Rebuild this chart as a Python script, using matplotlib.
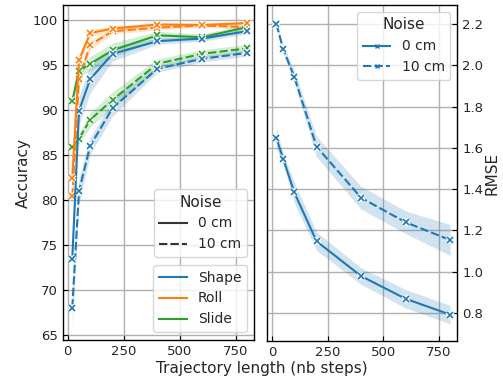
import numpy as np
import matplotlib
matplotlib.use('Agg')
import matplotlib.pyplot as plt
from matplotlib.lines import Line2D

# ---------------------------------------------------------#
# Data                     #
# ---------------------------------------------------------#
steps = [20, 50, 100, 200, 400, 600, 800]

tasks = ['Shape', 'Roll', 'Slide']
noise_labels = ['0 cm', '10 cm']

# accuracy, noise 0 cm
acc_shape_0  = [73.5, 89.9, 93.4, 96.2, 97.6, 97.9, 98.7]
acc_roll_0   = [82.5, 95.5, 98.5, 99.0, 99.45, 99.4, 99.6]
acc_slide_0  = [91.0, 94.3, 95.1, 96.6, 98.25, 98.05, 99.15]
# accuracy, noise 10 cm
acc_shape_10 = [68.1, 81.0, 86.0, 90.2, 94.55, 95.65, 96.3]
acc_roll_10  = [80.4, 93.4, 97.2, 98.7, 99.1, 99.35, 99.15]
acc_slide_10 = [85.9, 86.8, 88.9, 91.1, 95.1, 96.2, 96.8]

# half width of the confidence bands
ci_shape_0   = [1.5, 1.6, 1.5, 0.8, 0.35, 0.3, 0.3]
ci_roll_0    = [1.0, 0.6, 0.4, 0.3, 0.25, 0.2, 0.2]
ci_slide_0   = [0.6, 0.6, 0.8, 0.8, 0.45, 0.35, 0.3]
ci_shape_10  = [2.0, 1.5, 0.9, 0.9, 0.4, 0.35, 0.35]
ci_roll_10   = [1.0, 0.7, 0.5, 0.3, 0.25, 0.2, 0.25]
ci_slide_10  = [0.6, 0.6, 0.8, 0.9, 0.55, 0.45, 0.45]

# RMSE (Shape task)
rmse_0   = [1.646, 1.548, 1.384, 1.147, 0.978, 0.868, 0.791]
rmse_10  = [2.200, 2.079, 1.945, 1.606, 1.358, 1.239, 1.153]
rmse_ci_0  = [0.055, 0.025, 0.05, 0.045, 0.04, 0.045, 0.045]
rmse_ci_10 = [0.01, 0.02, 0.03, 0.05, 0.055, 0.055, 0.075]

acc = {('Shape', 0): (acc_shape_0, ci_shape_0), ('Roll', 0): (acc_roll_0, ci_roll_0),
       ('Slide', 0): (acc_slide_0, ci_slide_0), ('Shape', 1): (acc_shape_10, ci_shape_10),
       ('Roll', 1): (acc_roll_10, ci_roll_10), ('Slide', 1): (acc_slide_10, ci_slide_10)}

# ---------------------------------------------------------#
# Style                                                    #
# ---------------------------------------------------------#
colors = {'Shape': '#1f77b4', 'Roll': '#ff7f0e', 'Slide': '#2ca02c'}
dash = (4, 1.5)
plt.rcParams['font.family'] = 'DejaVu Sans'
plt.rcParams['axes.linewidth'] = 1.0
plt.rcParams['grid.color'] = '#b0b0b0'
plt.rcParams['grid.linewidth'] = 1.0
plt.rcParams['text.color'] = '#262626'
plt.rcParams['axes.labelcolor'] = '#262626'
plt.rcParams['xtick.labelcolor'] = '#262626'
plt.rcParams['ytick.labelcolor'] = '#262626'


def draw(ax, x, y, ci, color, dashed):
    y = np.array(y)
    ci = np.array(ci)
    ax.fill_between(x, y - ci, y + ci, color=color, alpha=0.2, linewidth=0)
    ls = '--' if dashed else '-'
    line, = ax.plot(x, y, color=color, lw=1.5, ls=ls)
    if dashed:
        line.set_dashes(dash)
    ax.plot(x, y, ls='none', marker='x', ms=4.5, mew=3.0, color='white')
    ax.plot(x, y, ls='none', marker='x', ms=4, mew=1.2, color=color)


def style(ax):
    ax.grid(True)
    ax.set_axisbelow(True)
    ax.tick_params(direction='in', labelsize=9.5, length=3.5, color='black')
    ax.set_xticks([0, 250, 500, 750])
    ax.set_xlim(-22, 832)
    for s in ax.spines.values():
        s.set_color('black')


fig = plt.figure(figsize=(5.03, 3.81), dpi=100)
ax1 = fig.add_axes([0.125, 0.1076, 0.380, 0.879])
ax2 = fig.add_axes([0.531, 0.105, 0.378, 0.882])

# ---------------------------------------------------------#
# Left: accuracy                                           #
# ---------------------------------------------------------#
for noise in [1, 0]:
    for task in ['Slide', 'Shape', 'Roll']:
        y, ci = acc[(task, noise)]
        draw(ax1, steps, y, ci, colors[task], noise == 1)

style(ax1)
ax1.set_ylim(64.5, 101.6)
ax1.set_yticks([65, 70, 75, 80, 85, 90, 95, 100])
ax1.set_ylabel('Accuracy', fontsize=11, labelpad=1)

noise_handles = [Line2D([], [], color='#333333', lw=1.5),
                 Line2D([], [], color='#333333', lw=1.5, dashes=dash)]
leg1 = ax1.legend(noise_handles, noise_labels, title='Noise', loc='lower right',
                  bbox_to_anchor=(0.963, 0.248), borderaxespad=0, fontsize=10,
                  title_fontsize=11)
ax1.add_artist(leg1)
task_handles = [Line2D([], [], color=colors[t], lw=1.5) for t in tasks]
ax1.legend(task_handles, tasks, loc='lower right', bbox_to_anchor=(0.963, 0.024),
           borderaxespad=0, fontsize=10)

# ---------------------------------------------------------#
# Right: RMSE                                              #
# ---------------------------------------------------------#
draw(ax2, steps, rmse_0, rmse_ci_0, colors['Shape'], False)
draw(ax2, steps, rmse_10, rmse_ci_10, colors['Shape'], True)
style(ax2)
ax2.set_ylim(0.663, 2.293)
ax2.set_yticks([0.8, 1.0, 1.2, 1.4, 1.6, 1.8, 2.0, 2.2])
ax2.yaxis.tick_right()
ax2.yaxis.set_label_position('right')
ax2.set_ylabel('RMSE', fontsize=11, labelpad=1)

rmse_handles = [Line2D([], [], color=colors['Shape'], lw=1.5, marker='x', ms=3.5, mew=1.0),
                Line2D([], [], color=colors['Shape'], lw=1.5, dashes=dash, marker='x',
                       ms=3.5, mew=1.0)]
ax2.legend(rmse_handles, noise_labels, title='Noise', loc='upper right', fontsize=10,
           title_fontsize=11)

fig.text(0.52, 0.012, 'Trajectory length (nb steps)', ha='center', va='bottom', fontsize=11)

fig.savefig('out.png', dpi=100)
